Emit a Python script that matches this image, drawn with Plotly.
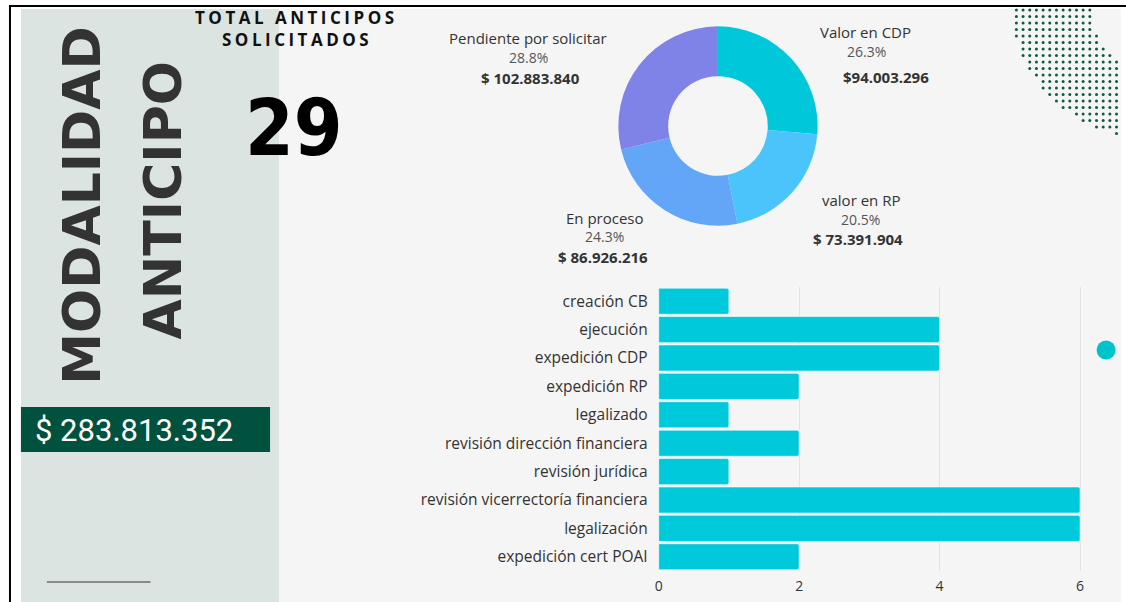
import plotly.graph_objects as go

W, H = 1126, 602

# donut: estado de los recursos
estados = ["Valor en CDP", "valor en RP", "En proceso", "Pendiente por solicitar"]
valores = [94003296, 73391904, 86926216, 102883840]
prefijos = ["$", "$ ", "$ ", "$ "]
colores_dona = ["#00C8DB", "#4BC4FB", "#63A6F8", "#7F82E6"]

# barras: anticipos por etapa
etapas = ["creación CB", "ejecución", "expedición CDP", "expedición RP", "legalizado",
          "revisión dirección financiera", "revisión jurídica",
          "revisión vicerrectoría financiera", "legalización", "expedición cert POAI"]
cantidades = [1, 4, 4, 2, 1, 2, 1, 6, 6, 2]
ticks_x = [0, 2, 4, 6]

total_anticipos = 29
monto_total = "$ 283.813.352"

FONT = "Open Sans"
TXT = "#333333"


def fx(x):
    return x / W


def fy(y):
    return 1 - y / H


def rect(x0, y0, x1, y1, color):
    return dict(type="rect", xref="paper", yref="paper", x0=fx(x0), x1=fx(x1),
                y0=fy(y1), y1=fy(y0), fillcolor=color, line=dict(width=0), layer="below")


def note(text, x, y, size, color=TXT, family=FONT, weight="normal", xanchor="center", angle=0):
    return dict(text=text, x=fx(x), y=fy(y), xref="paper", yref="paper", showarrow=False,
                xanchor=xanchor, yanchor="middle", textangle=angle, borderpad=0,
                font=dict(family=family, size=size, color=color, weight=weight))


fig = go.Figure()

fig.add_trace(go.Pie(
    labels=estados, values=valores, sort=False, direction="clockwise", rotation=0,
    hole=0.5, marker=dict(colors=colores_dona), textinfo="none", showlegend=False,
    domain=dict(x=[fx(716.5 - 100), fx(716.5 + 100)], y=[fy(226), fy(26)]),
))

fig.add_trace(go.Bar(
    x=cantidades, y=etapas, orientation="h", showlegend=False,
    marker=dict(color="#00C9DB", line=dict(color="rgba(255,255,255,0.6)", width=1), cornerradius=2),
))

# puntos decorativos (esquina superior derecha)
dx, dy = [], []
for i in range(16):
    for j in range(20):
        px = 1016 + i * 6.7
        py = 10 + j * 6.5
        if px > 1117 or py > 140:
            continue
        if ((px - 1150) ** 2 + py ** 2) ** 0.5 > 139:
            continue
        if px > min(1117, 1096 + max(0, py - 35) * 0.9):
            continue
        dx.append(px)
        dy.append(py)
fig.add_trace(go.Scatter(x=dx, y=dy, mode="markers", xaxis="x2", yaxis="y2", showlegend=False,
                         marker=dict(size=3, color="#0E5B40"), hoverinfo="skip"))
fig.add_trace(go.Scatter(x=[1106], y=[350], mode="markers", xaxis="x2", yaxis="y2", showlegend=False,
                         marker=dict(size=19, color="#00C2CB"), hoverinfo="skip"))

total = sum(valores)
pos = [
    [(865, 32), (866, 51), (885, 77)],
    [(860, 200), (860, 219), (857, 239)],
    [(603, 218), (603, 237), (601, 257)],
    [(526, 38), (526, 57), (528, 78)],
]
anns = []
for est, v, pre, p in zip(estados, valores, prefijos, pos):
    anns.append(note(est, p[0][0], p[0][1], 15))
    anns.append(note(f"{v / total * 100:.1f}%", p[1][0], p[1][1], 14, color="#555555"))
    anns.append(note(pre + f"{v:,}".replace(",", "."), p[2][0], p[2][1], 15, weight="bold"))

anns += [
    note('<span style="letter-spacing:3.5px">TOTAL ANTICIPOS</span>', 294, 18, 17,
         color="#111111", weight="bold"),
    note('<span style="letter-spacing:3.5px">SOLICITADOS</span>', 294, 40, 17,
         color="#111111", weight="bold"),
    note(str(total_anticipos), 291, 128, 78, color="#000000",
         family="DejaVu Sans Condensed", weight="bold"),
    note("MODALIDAD", 78, 206, 52, family="DejaVu Sans", weight="bold", angle=-90),
    note("ANTICIPO", 160, 200, 52, family="DejaVu Sans", weight="bold", angle=-90),
    note(monto_total, 30, 430, 31, color="#FFFFFF", family="Roboto", xanchor="left"),
]

shapes = [
    rect(5, 5, 7, 602, "#000000"),
    rect(5, 5, 1126, 7, "#000000"),
    rect(17, 9, 276, 602, "#DCE4E2"),
    rect(276, 9, 1121, 602, "#F5F5F5"),
    dict(type="rect", xref="paper", yref="paper", x0=fx(17), x1=fx(267), y0=fy(452), y1=fy(407),
         fillcolor="#00513D", line=dict(width=0)),
    dict(type="line", xref="paper", yref="paper", x0=fx(43), x1=fx(147), y0=fy(582), y1=fy(582),
         line=dict(color="#8A8A8A", width=2)),
]

fig.update_layout(
    width=W, height=H, margin=dict(l=0, r=0, t=0, b=0),
    paper_bgcolor="#FFFFFF", plot_bgcolor="rgba(0,0,0,0)",
    bargap=0.08,
    xaxis=dict(domain=[fx(657), fx(1094)], range=[0, 6.2], tickvals=ticks_x,
               gridcolor="#E3E3E3", zeroline=False, showline=False, ticklabelstandoff=5,
               tickfont=dict(family=FONT, size=14, color=TXT)),
    yaxis=dict(domain=[fy(571), fy(287)], autorange="reversed", ticklabelstandoff=10,
               showgrid=False, tickfont=dict(family=FONT, size=15.5, color=TXT)),
    xaxis2=dict(domain=[0, 1], range=[0, W], visible=False, fixedrange=True),
    yaxis2=dict(domain=[0, 1], range=[H, 0], visible=False, fixedrange=True, anchor="x2"),
    annotations=anns,
    shapes=shapes,
)

fig.write_html("out.html", config={"displayModeBar": False},
               post_script="document.body.style.margin='0';document.body.style.overflow='hidden';")
